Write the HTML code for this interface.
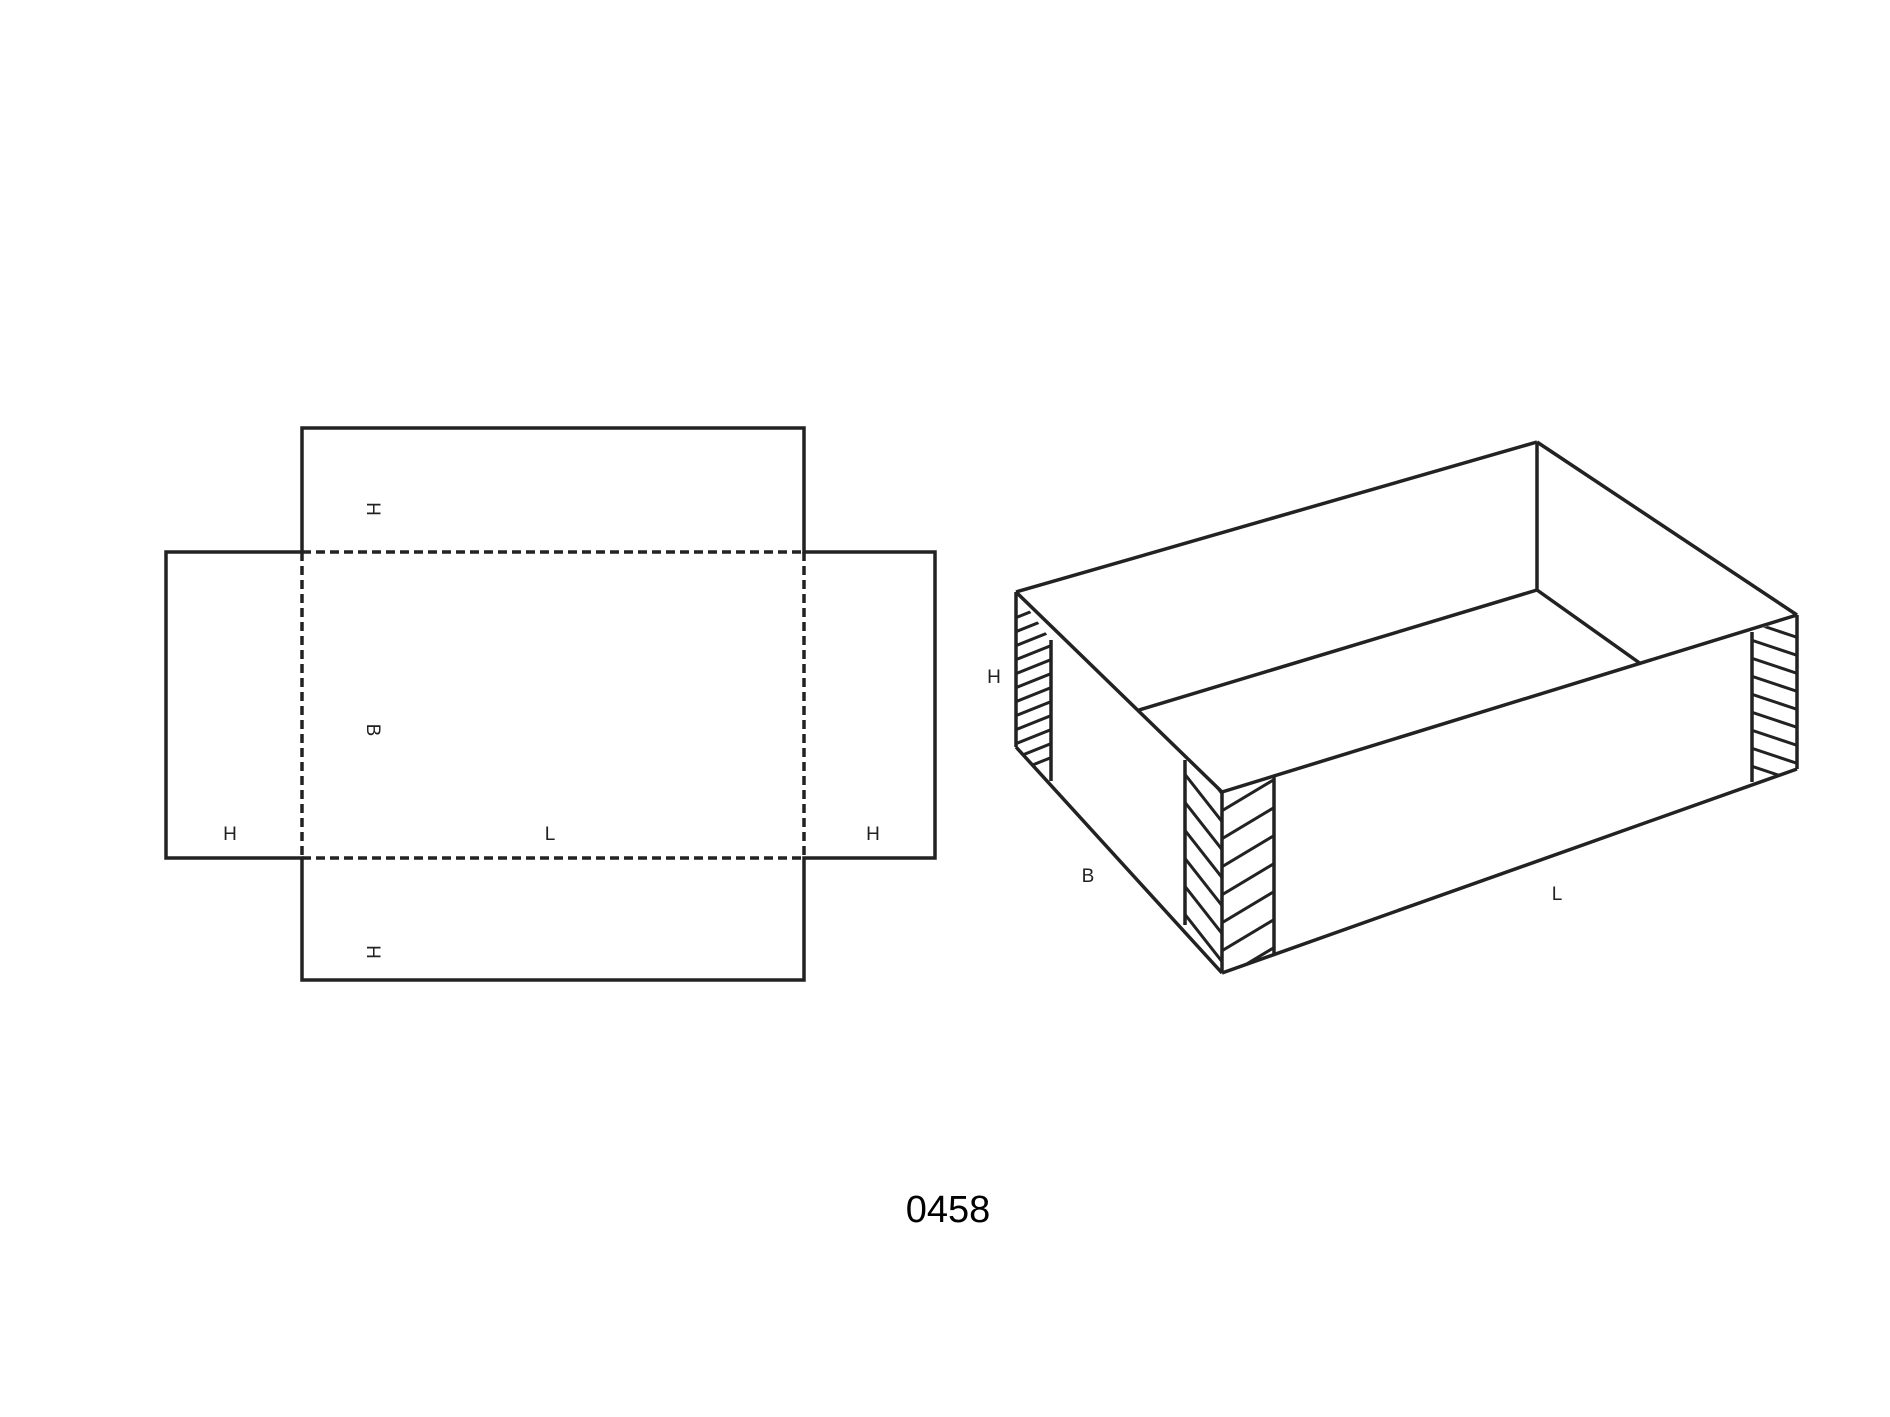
<!DOCTYPE html>
<html><head><meta charset="utf-8"><style>
html,body{margin:0;padding:0;background:#fff;}
svg{display:block;}
text{font-family:"Liberation Sans","DejaVu Sans",sans-serif;fill:#222;}
</style></head><body>
<svg width="1890" height="1417" viewBox="0 0 1890 1417" xmlns="http://www.w3.org/2000/svg">
<defs>
<clipPath id="cl"><polygon points="1016,592 1051,640 1051,781 1016,747"/></clipPath>
<clipPath id="cr"><polygon points="1752,632 1797,615 1797,769 1752,782"/></clipPath>
<clipPath id="cfl"><polygon points="1185,760 1222,792 1222,973 1185,925"/></clipPath>
<clipPath id="cfr"><polygon points="1222,792 1274,775 1274,955 1222,973"/></clipPath>
</defs>
<g stroke="#222" stroke-width="3.5" fill="none">
<polyline points="302,552 302,428 804,428 804,552 935,552 935,858 804,858 804,980 302,980 302,858 166,858 166,552 302,552"/>
<g stroke-dasharray="9,5">
<line x1="302" y1="552" x2="804" y2="552"/>
<line x1="302" y1="858" x2="804" y2="858"/>
<line x1="302" y1="552" x2="302" y2="858"/>
<line x1="804" y1="552" x2="804" y2="858"/>
</g>
<line x1="1016" y1="592" x2="1537" y2="442"/>
<line x1="1537" y1="442" x2="1797" y2="615"/>
<line x1="1537" y1="442" x2="1537" y2="590"/>
<line x1="1537" y1="590" x2="1139" y2="710"/>
<line x1="1537" y1="590" x2="1641" y2="664"/>
<line x1="1016" y1="592" x2="1222" y2="792"/>
<line x1="1222" y1="792" x2="1797" y2="615"/>
<line x1="1016" y1="592" x2="1016" y2="747"/>
<line x1="1051" y1="640" x2="1051" y2="781"/>
<line x1="1016" y1="747" x2="1222" y2="973"/>
<line x1="1222" y1="973" x2="1797" y2="769"/>
<line x1="1797" y1="615" x2="1797" y2="769"/>
<line x1="1752" y1="632" x2="1752" y2="782"/>
<line x1="1185" y1="760" x2="1185" y2="925"/>
<line x1="1222" y1="792" x2="1222" y2="973"/>
<line x1="1274" y1="775" x2="1274" y2="955"/>
</g>
<g stroke="#222" stroke-width="3">
<g clip-path="url(#cl)">
<line x1="1010" y1="620" x2="1060" y2="600"/><line x1="1010" y1="634" x2="1060" y2="614"/>
<line x1="1010" y1="648" x2="1060" y2="628"/><line x1="1010" y1="662" x2="1060" y2="642"/>
<line x1="1010" y1="676" x2="1060" y2="656"/><line x1="1010" y1="690" x2="1060" y2="670"/>
<line x1="1010" y1="704" x2="1060" y2="684"/><line x1="1010" y1="718" x2="1060" y2="698"/>
<line x1="1010" y1="732" x2="1060" y2="712"/><line x1="1010" y1="746" x2="1060" y2="726"/>
<line x1="1010" y1="760" x2="1060" y2="740"/><line x1="1010" y1="774" x2="1060" y2="754"/>
</g>
<g clip-path="url(#cr)">
<line x1="1745" y1="620" x2="1805" y2="640"/><line x1="1745" y1="638" x2="1805" y2="658"/>
<line x1="1745" y1="656" x2="1805" y2="676"/><line x1="1745" y1="674" x2="1805" y2="694"/>
<line x1="1745" y1="692" x2="1805" y2="712"/><line x1="1745" y1="710" x2="1805" y2="730"/>
<line x1="1745" y1="728" x2="1805" y2="748"/><line x1="1745" y1="746" x2="1805" y2="766"/>
<line x1="1745" y1="764" x2="1805" y2="784"/>
</g>
<g clip-path="url(#cfl)">
<line x1="1180" y1="740" x2="1227" y2="800"/><line x1="1180" y1="768" x2="1227" y2="828"/>
<line x1="1180" y1="796" x2="1227" y2="856"/><line x1="1180" y1="824" x2="1227" y2="884"/>
<line x1="1180" y1="852" x2="1227" y2="912"/><line x1="1180" y1="880" x2="1227" y2="940"/>
<line x1="1180" y1="908" x2="1227" y2="968"/>
</g>
<g clip-path="url(#cfr)">
<line x1="1220" y1="812" x2="1280" y2="776"/><line x1="1220" y1="840" x2="1280" y2="804"/>
<line x1="1220" y1="868" x2="1280" y2="832"/><line x1="1220" y1="896" x2="1280" y2="860"/>
<line x1="1220" y1="924" x2="1280" y2="888"/><line x1="1220" y1="952" x2="1280" y2="916"/>
<line x1="1220" y1="980" x2="1280" y2="944"/>
</g>
</g>
<g font-size="19" text-anchor="middle">
<text transform="translate(374,509) rotate(90)" dy="7">H</text>
<text transform="translate(374,730) rotate(90)" dy="7">B</text>
<text transform="translate(374,952) rotate(90)" dy="7">H</text>
<text x="230" y="840">H</text>
<text x="550" y="840">L</text>
<text x="873" y="840">H</text>
<text x="994" y="683">H</text>
<text x="1088" y="882">B</text>
<text x="1557" y="900">L</text>
</g>
<text x="948" y="1222" font-size="38" text-anchor="middle" style="fill:#000">0458</text>
</svg>
</body></html>
